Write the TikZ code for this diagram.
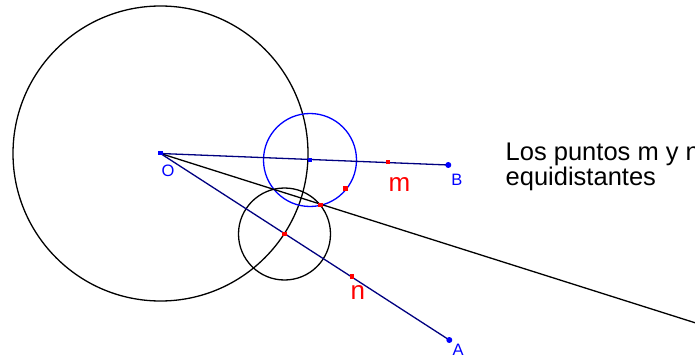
\documentclass[tikz,border=0pt]{standalone}
\usepackage{fontspec}
\setmainfont{Liberation Sans}
\definecolor{navy}{RGB}{0,0,128}
\definecolor{pblue}{RGB}{0,0,255}
\definecolor{pred}{RGB}{255,0,0}
\tikzset{
  geo/.style={line width=1.3pt},
  seg/.style={geo, navy},
  redpt/.style={fill=pred, minimum size=4.5pt, inner sep=0pt, draw=none, rectangle},
  bluesq/.style={fill=pblue, minimum size=4pt, inner sep=0pt, draw=none, rectangle},
  bluedot/.style={fill=pblue, circle, minimum size=6pt, inner sep=0pt, draw=none},
  lblue/.style={text=pblue, inner sep=0pt, anchor=base west, font=\fontsize{16.5}{19}\selectfont},
  lred/.style={text=pred, inner sep=0pt, anchor=base west, font=\fontsize{26}{30}\selectfont},
}
\begin{document}
\begin{tikzpicture}[x=1pt,y=-1pt]
\useasboundingbox (0,0) rectangle (695,358);
\clip (0,0) rectangle (695,358);
% points
\coordinate (O) at (160.5,153.5);
\coordinate (B) at (448.3,165);
\coordinate (A) at (449.3,340);
\coordinate (C) at (310,160);
\coordinate (P) at (345.5,188.5);
\coordinate (Q) at (320.5,205);
\coordinate (R) at (284.5,234);
\coordinate (M) at (388,162);
\coordinate (N) at (352,276.5);
\coordinate (E) at (710,327.5);
% circles
\draw[geo] (O) circle[radius=147.5];
\draw[geo] (R) circle[radius=46];
\draw[geo, pblue] (C) circle[radius=46.5];
% lines
\draw[geo] (O) -- (E);
\draw[seg] (O) -- (B);
\draw[seg] (O) -- (A);
% point marks
\node[bluesq, minimum width=5.5pt, minimum height=4pt] (o) at (O) {};
\node[bluesq, minimum size=3.5pt] (c) at (C) {};
\node[bluedot] (b) at (B) {};
\node[bluedot] (a) at (A) {};
\node[redpt] (p) at (P) {};
\node[redpt] (q) at (Q) {};
\node[redpt] (r) at (R) {};
\node[redpt] (m) at (M) {};
\node[redpt] (n) at (N) {};
% labels
\node[lblue] (lo) at (161.5,176.7) {O};
\node[lblue] (lb) at (451.2,185) {B};
\node[lblue] (la) at (452.5,355) {A};
\node[lred] (lm) at (388.3,191) {m};
\node[lred] (ln) at (350.3,299.3) {n};
% text
\node[inner sep=0pt, anchor=base west, align=left, font=\fontsize{25.5}{22.3}\selectfont] (txt) at (505.5,185) {Los puntos m y n\\equidistantes};
\end{tikzpicture}
\end{document}
